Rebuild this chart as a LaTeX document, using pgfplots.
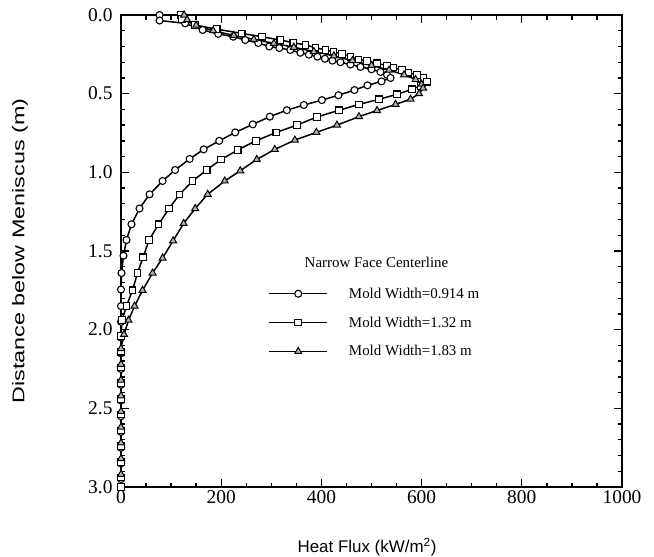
\documentclass[border=0pt]{standalone}
\usepackage{graphicx}
\usepackage{pgfplots}
\pgfplotsset{compat=1.18}
\usepackage{fontspec}
\setmainfont{Liberation Serif}
\newfontfamily\arial{Liberation Sans}

\pgfplotstableread{
x y
77 0.000
77 0.035
128 0.053
163 0.095
194 0.120
224 0.138
248 0.159
274 0.178
296 0.200
316 0.210
338 0.222
358 0.240
375 0.252
392 0.265
407 0.278
422 0.290
438 0.300
458 0.315
478 0.330
500 0.345
518 0.362
531 0.380
538 0.400
520 0.422
492 0.447
466 0.477
434 0.510
401 0.541
365 0.572
331 0.605
297 0.646
263 0.695
228 0.746
196 0.800
165 0.854
137 0.915
108 0.985
83 1.055
57 1.140
37 1.230
21 1.330
11 1.430
5 1.530
1 1.640
0 1.745
0 1.850
0 1.950
0 2.050
0 2.150
0 2.250
0 2.350
0 2.450
0 2.550
0 2.650
0 2.750
0 2.850
0 2.950
}\circdata

\pgfplotstableread{
x y
119 0.000
122 0.025
148 0.064
191 0.090
241 0.117
281 0.138
318 0.159
344 0.176
368 0.190
388 0.208
408 0.222
424 0.233
441 0.248
458 0.265
474 0.282
491 0.292
511 0.307
531 0.322
544 0.333
561 0.350
574 0.367
591 0.381
604 0.400
611 0.424
598 0.450
581 0.472
551 0.504
515 0.536
475 0.568
435 0.606
391 0.648
351 0.700
310 0.746
269 0.800
233 0.858
200 0.918
171 0.985
143 1.055
117 1.140
96 1.230
75 1.330
56 1.430
44 1.540
33 1.640
23 1.750
11 1.850
2 1.940
0 2.040
0 2.140
0 2.240
0 2.340
0 2.440
0 2.540
0 2.640
0 2.740
0 2.840
0 2.940
0 3.000
}\squaredata

\pgfplotstableread{
x y
126 0.000
132 0.030
150 0.065
184 0.100
225 0.130
265 0.155
305 0.180
345 0.205
385 0.232
425 0.260
462 0.290
500 0.320
535 0.350
565 0.380
588 0.410
600 0.440
603 0.465
595 0.500
578 0.535
548 0.568
511 0.607
475 0.646
431 0.700
390 0.746
347 0.795
307 0.854
271 0.918
238 0.990
207 1.055
173 1.140
148 1.230
125 1.325
104 1.435
83 1.545
63 1.640
43 1.750
27 1.850
15 1.940
6 2.030
0 2.120
0 2.220
0 2.320
0 2.420
0 2.520
0 2.620
0 2.720
0 2.820
0 2.920
}\tridata

\begin{document}
\begin{tikzpicture}
\path[use as bounding box] (-121bp,-70bp) rectangle (533bp,487bp);
\begin{axis}[
  at={(0,0)}, anchor=south west,
  scale only axis, width=501bp, height=472bp,
  xmin=0, xmax=1000, ymin=0, ymax=3, y dir=reverse,
  xtick={0,200,...,1000}, ytick={0,0.5,...,3},
  minor x tick num=3, minor y tick num=4,
  tick align=inside, tick pos=both,
  major tick length=8bp, minor tick length=4.5bp,
  every tick/.style={black, line width=1.3bp},
  axis line style={line width=1.6bp},
  /pgf/number format/assume math mode=true,
  ticklabel style={font=\fontsize{19.5}{22}\selectfont},
  yticklabel style={/pgf/number format/.cd, fixed, fixed zerofill, precision=1, /tikz/.cd, xshift=-5bp},
  xticklabel style={/pgf/number format/.cd, fixed, 1000 sep={}},
  xlabel={Heat Flux (kW/m\textsuperscript{2})},
  xlabel style={at={(axis description cs:0.491,-0.127)}, anchor=center, font=\arial\fontsize{17}{20}\selectfont},
  ylabel={\scalebox{1.38}[1]{Distance below Meniscus (m)}},
  ylabel style={at={(axis description cs:-0.2016,0.5)}, anchor=center, font=\arial\fontsize{17}{20}\selectfont},
  legend image code/.code={\draw[mark repeat=2,mark phase=2,#1] plot coordinates {(0bp,0bp) (29bp,0bp) (58bp,0bp)};},
  legend cell align=left,
  legend style={at={(axis cs:294,1.72)}, anchor=north west, draw=none, fill=none,
    font=\fontsize{15}{18}\selectfont, row sep=13bp, column sep=19bp, inner sep=0pt},
]
\addplot[black, line width=1.5bp, mark=*, mark size=3.5bp, mark options={solid, line width=1.1bp, fill=white}] table {\circdata};
\addlegendentry{Mold Width=0.914 m}
\addplot[black, line width=1.5bp, mark=square*, mark size=3.3bp, mark options={solid, line width=1.1bp, fill=white}] table {\squaredata};
\addlegendentry{Mold Width=1.32 m}
\addplot[black, line width=1.5bp, mark=triangle*, mark size=4bp, mark options={solid, line width=1bp, fill=gray!60}] table {\tridata};
\addlegendentry{Mold Width=1.83 m}
\node[font=\fontsize{15}{18}\selectfont, anchor=center] at (axis cs:510,1.57) {Narrow Face Centerline};
\end{axis}
\end{tikzpicture}
\end{document}
